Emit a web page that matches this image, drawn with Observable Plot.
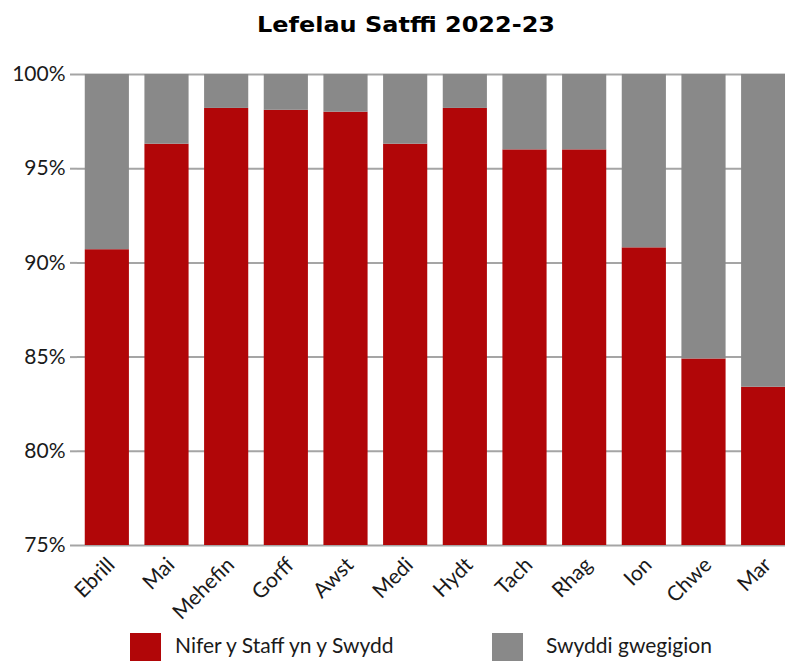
<!DOCTYPE html>
<html><head><meta charset="utf-8">
<script src="https://cdn.jsdelivr.net/npm/d3@7"></script>
<script src="https://cdn.jsdelivr.net/npm/@observablehq/plot@0.6"></script>
<style>
body{margin:0;background:#fff;width:785px;height:661px;overflow:hidden;position:relative;font-family:Lato,sans-serif}
#title{position:absolute;left:406px;top:10px;transform:translateX(-50%) scaleX(1.09);white-space:nowrap;font-family:"DejaVu Sans",sans-serif;font-weight:bold;font-size:22px;line-height:30px;color:#000}
#chart{position:absolute;left:0;top:50px}
#chart svg{overflow:visible}
.sw{position:absolute;width:31px;height:31px;top:633px}
.lt{position:absolute;top:631px;font-size:21px;line-height:28px;color:#1a1a1a;font-family:Lato,sans-serif}
</style></head>
<body>
<div id="title">Lefelau Satffi 2022-23</div>
<div id="chart"></div>
<div id="legend"></div>
<script>
const months = ["Ebrill","Mai","Mehefin","Gorff","Awst","Medi","Hydt","Tach","Rhag","Ion","Chwe","Mar"];
const staffed = [90.7, 96.3, 98.2, 98.1, 98.0, 96.3, 98.2, 96.0, 96.0, 90.8, 84.9, 83.4];
const vacant = [9.3, 3.7, 1.8, 1.9, 2.0, 3.7, 1.8, 4.0, 4.0, 9.2, 15.1, 16.6];
const seriesNames = ["Nifer y Staff yn y Swydd", "Swyddi gwegigion"];
const seriesColors = ["#b10608", "#898989"];
const yTicks = [75, 80, 85, 90, 95, 100];

const data = [];
months.forEach((m, i) => {
  data.push({month: m, series: seriesNames[0], value: staffed[i]});
  data.push({month: m, series: seriesNames[1], value: vacant[i]});
});

const plot = Plot.plot({
  width: 785,
  height: 580,
  marginTop: 24,
  marginBottom: 85,
  marginLeft: 77,
  marginRight: 0,
  style: {fontFamily: "Lato, sans-serif", fontSize: "21px", color: "#1a1a1a", background: "transparent"},
  x: {domain: months, range: [77, 793], paddingInner: 0.26, paddingOuter: 0.13, round: false, label: null},
  y: {domain: [75, 100], label: null},
  color: {domain: seriesNames, range: seriesColors},
  marks: [
    Plot.gridY(yTicks, {stroke: "#a5a5a5", strokeOpacity: 1, strokeWidth: 2}),
    Plot.barY(data, {x: "month", y: "value", fill: "series", order: seriesNames, clip: true}),
    Plot.axisY(yTicks, {tickFormat: d => d + "%", tickSize: 7, tickPadding: 5, stroke: "#a5a5a5", strokeWidth: 2, fontSize: 21, fill: "#1a1a1a"}),
    Plot.axisX({tickSize: 0, tickPadding: 16, dx: 4, tickRotate: -45, fontSize: 21, fill: "#1a1a1a"})
  ]
});
document.getElementById("chart").appendChild(plot);

const legend = document.getElementById("legend");
const swX = [130, 492];
const txtX = [175, 546];
seriesNames.forEach((s, i) => {
  const sw = document.createElement("div");
  sw.className = "sw"; sw.style.left = swX[i] + "px"; sw.style.background = seriesColors[i];
  legend.appendChild(sw);
  const t = document.createElement("div");
  t.className = "lt"; t.style.left = txtX[i] + "px"; t.textContent = s;
  legend.appendChild(t);
});
</script>
</body></html>
